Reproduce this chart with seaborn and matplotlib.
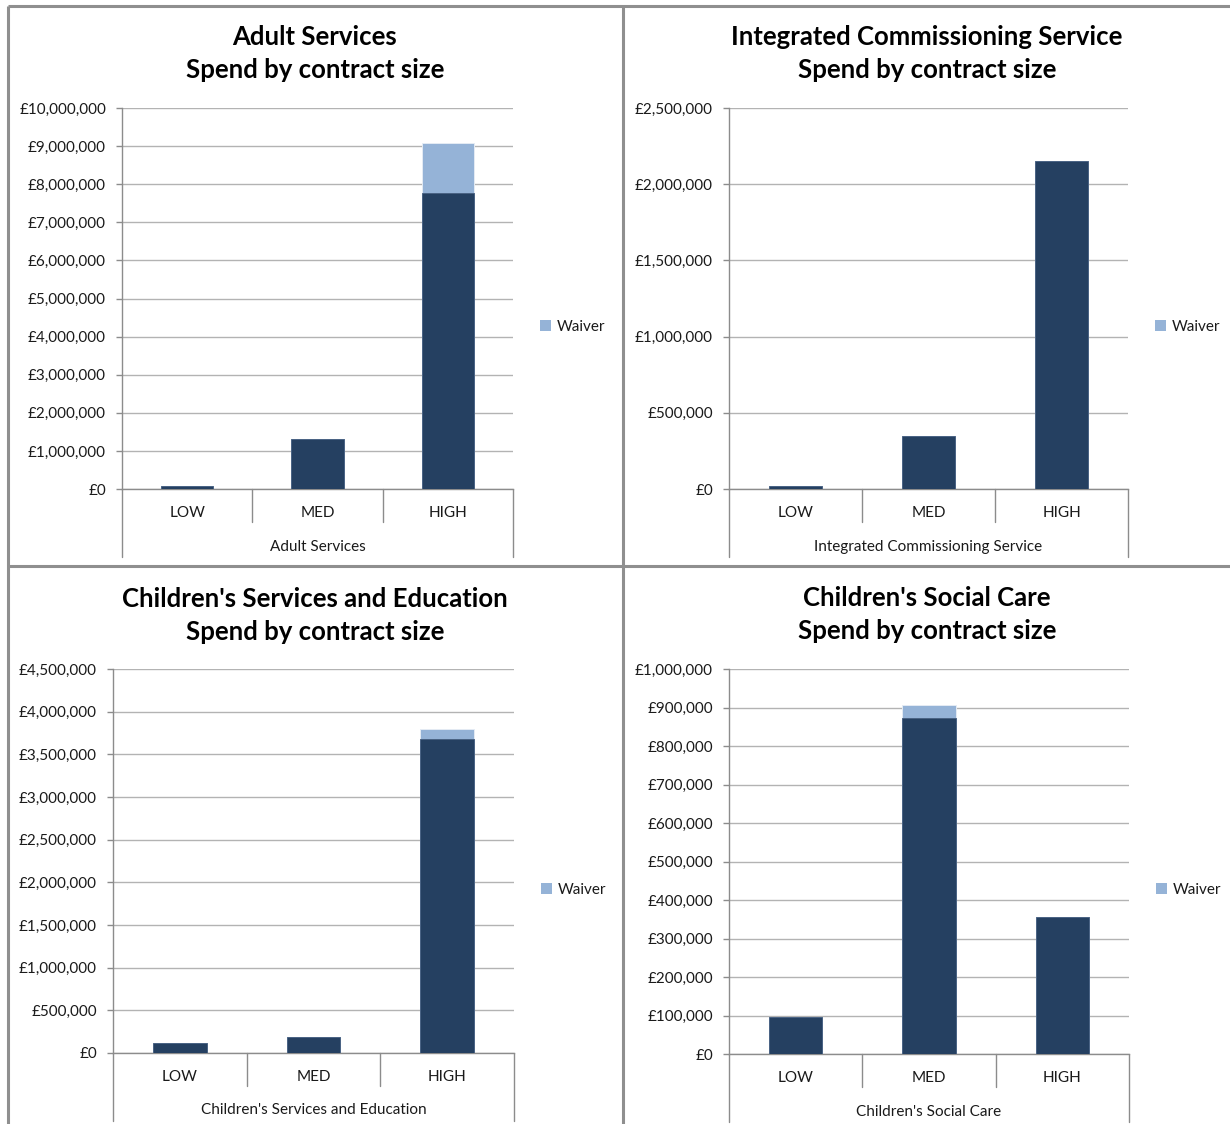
import matplotlib
matplotlib.use("Agg")
import matplotlib.pyplot as plt
import seaborn as sns
import pandas as pd
import numpy as np
from matplotlib.lines import Line2D
from matplotlib.patches import Patch
from matplotlib.ticker import FuncFormatter, MultipleLocator

# ---- data -------------------------------------------------------------
sizes = ["LOW", "MED", "HIGH"]

adult_base = [70000, 1320000, 7770000]
adult_waiver = [0, 0, 1310000]

ics_base = [20000, 348000, 2150000]
ics_waiver = [0, 0, 0]

cse_base = [117000, 191000, 3680000]
cse_waiver = [0, 0, 120000]

csc_base = [95000, 873000, 355000]
csc_waiver = [0, 33000, 0]

titles = ["Adult Services", "Integrated Commissioning Service",
          "Children's Services and Education", "Children's Social Care"]
subtitle = "Spend by contract size"
legend_label = "Waiver"

# ---- style ------------------------------------------------------------
sns.set_theme(style="white")
plt.rcParams["font.family"] = ["Lato", "DejaVu Sans"]

DARK = "#254061"
LIGHT = "#95B3D7"
GRID = "#B3B3B3"
AXIS = "#8C8C8C"
FRAME = "#8f8f8f"
TEXT = "#1a1a1a"

W, H = 1230, 1124
fig = plt.figure(figsize=(W / 100, H / 100), dpi=100)


def fx(x):
    return x / W


def fy(y):
    return 1 - y / H


# chart frames (outer edges run off the canvas on the right and bottom)
for xs, ys in [((8, 8), (6, H)), ((8, W), (6, 6)),
               ((623, 623), (6, H)), ((8, W), (566, 566))]:
    fig.add_artist(Line2D([fx(xs[0]), fx(xs[1])], [fy(ys[0]), fy(ys[1])],
                          transform=fig.transFigure, color=FRAME,
                          linewidth=2.2, solid_capstyle="butt"))

layout = [
    dict(base=adult_base, waiver=adult_waiver, ymax=10_000_000, step=1_000_000,
         box=(8, 622), ax=(122, 108, 513, 489), leg=(540, 327),
         ttl=(37, 70)),
    dict(base=ics_base, waiver=ics_waiver, ymax=2_500_000, step=500_000,
         box=(624, 1230), ax=(729, 108, 1128, 489), leg=(1155, 327),
         ttl=(37, 70)),
    dict(base=cse_base, waiver=cse_waiver, ymax=4_500_000, step=500_000,
         box=(8, 622), ax=(113, 669, 514, 1053), leg=(541, 890),
         ttl=(599, 632)),
    dict(base=csc_base, waiver=csc_waiver, ymax=1_000_000, step=100_000,
         box=(624, 1230), ax=(729, 669, 1129, 1054), leg=(1156, 890),
         ttl=(598, 631)),
]

money = FuncFormatter(lambda v, p: "£{:,.0f}".format(v))

for title, spec in zip(titles, layout):
    bx0, bx1 = spec["box"]
    cx = fx((bx0 + bx1) / 2)
    fig.text(cx, fy(spec["ttl"][0]), title, ha="center", va="center",
             fontsize=18.5, fontweight="bold", color="black")
    fig.text(cx, fy(spec["ttl"][1]), subtitle, ha="center", va="center",
             fontsize=18.5, fontweight="bold", color="black")

    l, t, r, b = spec["ax"]
    hpx = b - t
    ax = fig.add_axes([fx(l), fy(b), (r - l) / W, hpx / H])

    df = pd.DataFrame({
        "size": sizes,
        "base": spec["base"],
        "total": np.add(spec["base"], spec["waiver"]),
    })
    sns.barplot(data=df, x="size", y="total", order=sizes, color=LIGHT,
                saturation=1, width=0.4, edgecolor="#e4ebf4", linewidth=0.7,
                ax=ax, zorder=2)
    sns.barplot(data=df, x="size", y="base", order=sizes, color=DARK,
                saturation=1, width=0.4, edgecolor="#4a6384", linewidth=0.7,
                ax=ax, zorder=3)

    ax.set_xlim(-0.5, 2.5)
    ax.set_ylim(0, spec["ymax"])
    ax.yaxis.set_major_locator(MultipleLocator(spec["step"]))
    ax.yaxis.set_major_formatter(money)
    ax.set_axisbelow(True)
    ax.grid(axis="y", color=GRID, linewidth=1.0)
    ax.grid(axis="x", visible=False)

    for s in ("top", "right"):
        ax.spines[s].set_visible(False)
    for s in ("left", "bottom"):
        ax.spines[s].set_color(AXIS)
        ax.spines[s].set_linewidth(1.0)

    ax.tick_params(axis="y", left=True, length=4.5, width=1.0, color=AXIS,
                   pad=7, labelsize=11, labelcolor=TEXT)
    ax.tick_params(axis="x", bottom=False, length=0, pad=12.5, labelsize=11,
                   labelcolor=TEXT)
    ax.set_xlabel("")
    ax.set_ylabel("")

    # multi-level category axis: dividers and group label
    trans = ax.get_xaxis_transform()
    for xv in (0.5, 1.5):
        ax.plot([xv, xv], [0, -33 / hpx], transform=trans, clip_on=False,
                color=AXIS, linewidth=1.0)
    for xv in (-0.5, 2.5):
        ax.plot([xv, xv], [0, -68 / hpx], transform=trans, clip_on=False,
                color=AXIS, linewidth=1.0)
    ax.text(0.5, -57.5 / hpx, title, transform=ax.transAxes, ha="center",
            va="center", fontsize=11, color=TEXT)

    lx, ly = spec["leg"]
    ax.legend(handles=[Patch(facecolor=LIGHT, edgecolor="none", label=legend_label)],
              loc="center left", bbox_to_anchor=(fx(lx), fy(ly)),
              bbox_transform=fig.transFigure, frameon=False, fontsize=11,
              handlelength=0.75, handleheight=0.75, handletextpad=0.35,
              borderaxespad=0, borderpad=0, labelcolor=TEXT)

fig.savefig("out.png", dpi=100, facecolor="white")
